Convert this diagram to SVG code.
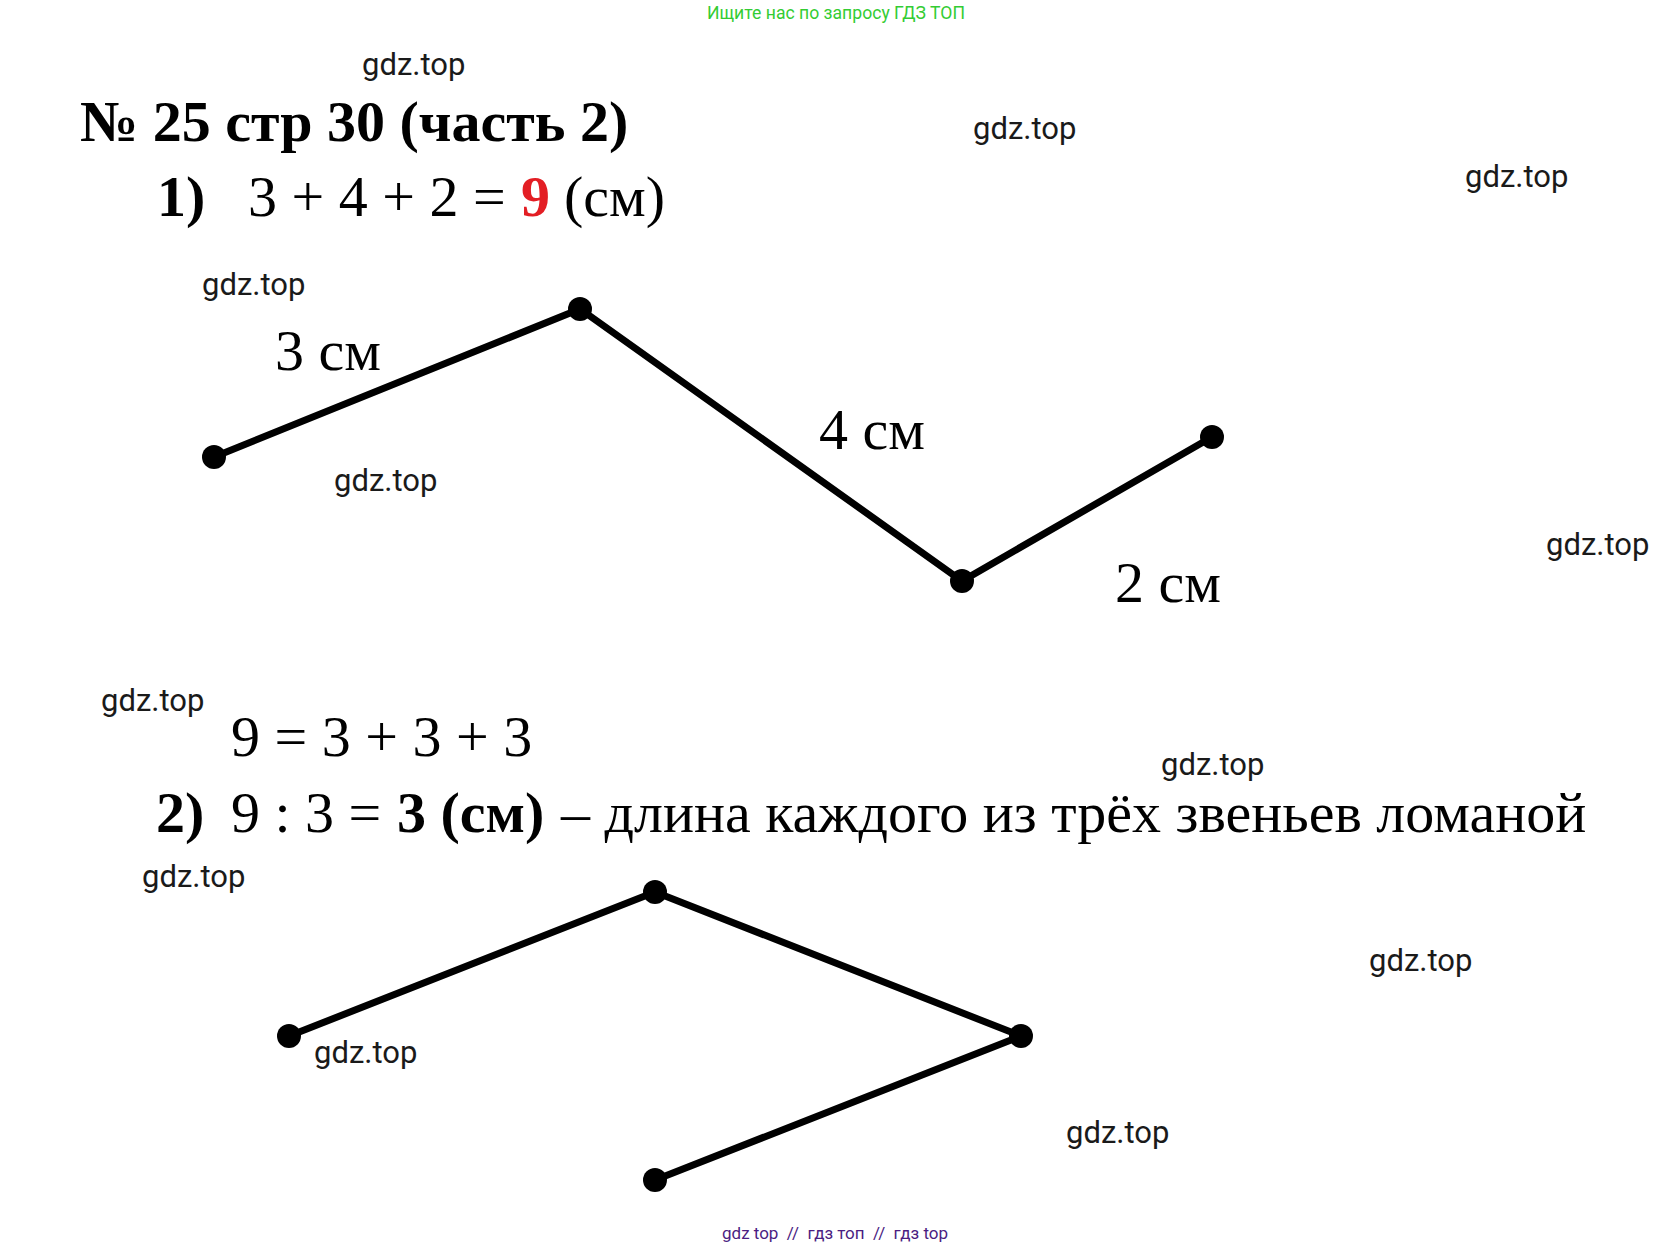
<svg xmlns="http://www.w3.org/2000/svg" width="1673" height="1248" viewBox="0 0 1673 1248">
<style>
.wm{font-family:Roboto,"Liberation Sans",sans-serif;font-size:31px;fill:#1a1a1a}
.tm{font-family:"Liberation Serif","Times New Roman",serif;font-size:58px;fill:#000}
.b{font-weight:bold}
.red{fill:#e31e24}
.seg{stroke:#000;stroke-width:7;stroke-linecap:round;fill:none}
.dot{fill:#000}
</style>
<rect width="1673" height="1248" fill="#fff"/>
<g id="header">
<text x="707" y="19" font-family="Roboto,'Liberation Sans',sans-serif" font-size="18" fill="#33cc33" textLength="258" lengthAdjust="spacingAndGlyphs">Ищите нас по запросу ГДЗ ТОП</text>
</g>
<g id="watermarks">
<text class="wm" x="362" y="75">gdz.top</text>
<text class="wm" x="973" y="139">gdz.top</text>
<text class="wm" x="1465" y="187">gdz.top</text>
<text class="wm" x="202" y="295">gdz.top</text>
<text class="wm" x="334" y="491">gdz.top</text>
<text class="wm" x="1546" y="555">gdz.top</text>
<text class="wm" x="101" y="711">gdz.top</text>
<text class="wm" x="1161" y="775">gdz.top</text>
<text class="wm" x="142" y="887">gdz.top</text>
<text class="wm" x="1369" y="971">gdz.top</text>
<text class="wm" x="314" y="1063">gdz.top</text>
<text class="wm" x="1066" y="1143">gdz.top</text>
</g>
<g id="title">
<text class="tm b" x="80" y="141" font-size="59">№ 25 стр 30 (часть 2)</text>
</g>
<g id="line1">
<text class="tm" y="216"><tspan class="b" x="157">1)</tspan><tspan x="248">3 + 4 + 2 =</tspan><tspan class="b red" x="521">9</tspan><tspan x="564">(см)</tspan></text>
</g>
<g id="connectors">
<polyline class="seg" points="214,457 580,309 962,581 1212,437"/>
<polyline class="seg" points="289,1036 655,892 1021,1036 655,1180"/>
</g>
<g id="n1"><circle class="dot" cx="214" cy="457" r="12"/></g>
<g id="n2"><circle class="dot" cx="580" cy="309" r="12"/></g>
<g id="n3"><circle class="dot" cx="962" cy="581" r="12"/></g>
<g id="n4"><circle class="dot" cx="1212" cy="437" r="12"/></g>
<g id="m1"><circle class="dot" cx="289" cy="1036" r="12"/></g>
<g id="m2"><circle class="dot" cx="655" cy="892" r="12"/></g>
<g id="m3"><circle class="dot" cx="1021" cy="1036" r="12"/></g>
<g id="m4"><circle class="dot" cx="655" cy="1180" r="12"/></g>
<g id="labels">
<text class="tm" x="275" y="370" font-size="56">3 см</text>
<text class="tm" x="819" y="449" font-size="56">4 см</text>
<text class="tm" x="1115" y="602" font-size="56">2 см</text>
</g>
<g id="eq2">
<text class="tm" x="231" y="756">9 = 3 + 3 + 3</text>
</g>
<g id="line2">
<text class="tm" y="832"><tspan class="b" x="156">2)</tspan><tspan x="231">9 : 3 =</tspan><tspan class="b" x="397">3 (см)</tspan><tspan x="561">– длина каждого из трёх звеньев ломаной</tspan></text>
</g>
<g id="footer">
<text x="722" y="1239" font-family="Roboto,'Liberation Sans',sans-serif" font-size="17" fill="#4b1d82" xml:space="preserve">gdz top  //  гдз топ  //  гдз top</text>
</g>
</svg>
